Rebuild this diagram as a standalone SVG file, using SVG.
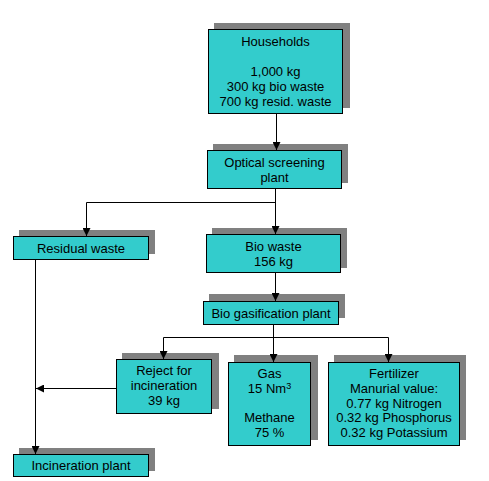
<svg xmlns="http://www.w3.org/2000/svg" width="489" height="481" viewBox="0 0 489 481">
<style>
.sh{fill:#808080}
.bx{fill:#33CCCC;stroke:#000;stroke-width:1}
text{font-family:"Liberation Sans",Arial,sans-serif;font-size:13px;fill:#000;text-anchor:middle}
.ln{fill:none;stroke:#000;stroke-width:1}
</style>
<defs>
<marker id="ah" viewBox="0 0 8 8" refX="8" refY="4" markerWidth="8" markerHeight="8" markerUnits="userSpaceOnUse" orient="auto">
<path d="M0,0 L8,4 L0,8 Z" fill="#000"/>
</marker>
</defs>
<rect width="489" height="481" fill="#fff"/>
<g id="households">
<rect class="sh" x="214" y="23" width="136" height="85"/>
<rect class="bx" x="208.5" y="29.5" width="134" height="84"/>
<text x="275.5" y="46">Households</text>
<text x="275.5" y="76">1,000 kg</text>
<text x="275.5" y="91">300 kg bio waste</text>
<text x="275.5" y="106">700 kg resid. waste</text>
</g>
<g id="optical">
<rect class="sh" x="213" y="144" width="135" height="39"/>
<rect class="bx" x="207.5" y="150.5" width="134" height="38"/>
<text x="274.5" y="167">Optical screening</text>
<text x="274.5" y="182">plant</text>
</g>
<g id="residual">
<rect class="sh" x="19" y="230" width="136" height="24"/>
<rect class="bx" x="13.5" y="236.5" width="135" height="23"/>
<text x="81" y="253">Residual waste</text>
</g>
<g id="biowaste">
<rect class="sh" x="212" y="228" width="135" height="40"/>
<rect class="bx" x="206.5" y="234.5" width="134" height="38"/>
<text x="273.5" y="251">Bio waste</text>
<text x="273.5" y="266">156 kg</text>
</g>
<g id="gasification">
<rect class="sh" x="209" y="294" width="136" height="24"/>
<rect class="bx" x="203.5" y="301.5" width="135" height="23"/>
<text x="271" y="318">Bio gasification plant</text>
</g>
<g id="reject">
<rect class="sh" x="122" y="353" width="97" height="56"/>
<rect class="bx" x="116.5" y="359.5" width="95" height="54"/>
<text x="164" y="375">Reject for</text>
<text x="164" y="390">incineration</text>
<text x="164" y="405">39 kg</text>
</g>
<g id="gas">
<rect class="sh" x="234" y="355" width="84" height="85"/>
<rect class="bx" x="228.5" y="362.5" width="82" height="83"/>
<text x="269.5" y="378">Gas</text>
<text x="269.5" y="393">15 Nm<tspan font-size="9" dy="-4">3</tspan></text>
<text x="269.5" y="422">Methane</text>
<text x="269.5" y="437">75 %</text>
</g>
<g id="fertilizer">
<rect class="sh" x="334" y="355" width="132" height="85"/>
<rect class="bx" x="328.5" y="362.5" width="131" height="83"/>
<text x="394" y="378">Fertilizer</text>
<text x="394" y="393">Manurial value:</text>
<text x="394" y="408">0.77 kg Nitrogen</text>
<text x="394" y="422">0.32 kg Phosphorus</text>
<text x="394" y="437">0.32 kg Potassium</text>
</g>
<g id="incineration">
<rect class="sh" x="19" y="448" width="136" height="23"/>
<rect class="bx" x="13.5" y="454.5" width="135" height="22"/>
<text x="81" y="470">Incineration plant</text>
</g>
<g id="connectors">
<path class="ln" d="M276.5,114 V150" marker-end="url(#ah)"/>
<path class="ln" d="M275.5,189 V234" marker-end="url(#ah)"/>
<path class="ln" d="M275.5,202.5 H86.5 V236" marker-end="url(#ah)"/>
<path class="ln" d="M275.5,273 V301" marker-end="url(#ah)"/>
<path class="ln" d="M273.5,324 V362" marker-end="url(#ah)"/>
<path class="ln" d="M273.5,337.5 H163.5 V359" marker-end="url(#ah)"/>
<path class="ln" d="M273.5,337.5 H388.5 V362" marker-end="url(#ah)"/>
<path class="ln" d="M35.5,260 V454" marker-end="url(#ah)"/>
<path class="ln" d="M117,388.5 H36" marker-end="url(#ah)"/>
</g>
</svg>
